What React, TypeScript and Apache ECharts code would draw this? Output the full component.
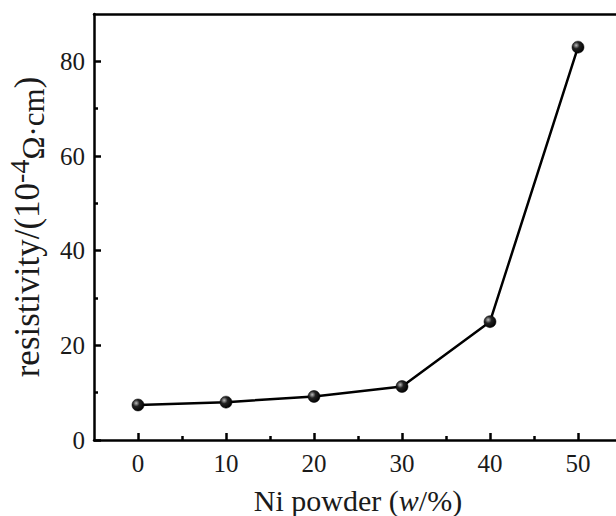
import React, { useEffect, useRef } from "react";
import * as echarts from "echarts";

const niPowder = [0, 10, 20, 30, 40, 50];
const resistivity = [7.4, 8.0, 9.2, 11.3, 25.0, 83.0];
const xTicks = [0, 10, 20, 30, 40, 50];
const xMinorTicks = [5, 15, 25, 35, 45];
const yTicks = [0, 20, 40, 60, 80];
const yMinorTicks = [10, 30, 50, 70];

const FONT = "Liberation Serif";
const TXT = "#1a1a1a";

export default function App() {
  const ref = useRef<HTMLDivElement>(null);
  useEffect(() => {
    if (!ref.current) return;
    const chart = echarts.init(ref.current, null, { renderer: "svg" });
    const axisLine = { show: true, onZero: false, lineStyle: { color: "#000", width: 2.5 } };
    const tickStyle = { color: "#000", width: 2.5 };
    chart.setOption({
      animation: false,
      backgroundColor: "#fff",
      grid: {
        left: 94,
        top: 14,
        right: -6,
        bottom: 76,
        containLabel: false,
        outerBoundsMode: "none",
      },
      xAxis: [
        {
          type: "value",
          min: -5,
          max: 55,
          position: "bottom",
          axisLine,
          axisTick: { show: true, inside: true, length: 7, customValues: xTicks, lineStyle: tickStyle },
          splitLine: { show: false },
          axisLabel: {
            margin: 11,
            fontFamily: FONT,
            fontSize: 25,
            color: TXT,
            customValues: xTicks,
          },
          name: "Ni powder ({i|w}/%)",
          nameLocation: "middle",
          nameGap: 45,
          nameTextStyle: {
            fontFamily: FONT,
            fontSize: 30,
            color: TXT,
            rich: { i: { fontFamily: FONT, fontSize: 30, fontStyle: "italic", color: TXT } },
          },
        },
        {
          type: "value",
          min: -5,
          max: 55,
          position: "top",
          axisLine,
          axisTick: { show: false },
          axisLabel: { show: false },
          splitLine: { show: false },
        },
        {
          type: "value",
          min: -5,
          max: 55,
          position: "bottom",
          offset: 0,
          axisLine: { show: false, onZero: false },
          axisTick: { show: true, inside: true, length: 4, customValues: xMinorTicks, lineStyle: tickStyle },
          axisLabel: { show: false },
          splitLine: { show: false },
        },
      ],
      yAxis: [
        {
          type: "value",
          min: 0,
          max: 90,
          position: "left",
          axisLine,
          axisTick: { show: true, inside: true, length: 7, customValues: yTicks, lineStyle: tickStyle },
          splitLine: { show: false },
          axisLabel: {
            margin: 9,
            fontFamily: FONT,
            fontSize: 25,
            color: TXT,
            customValues: yTicks,
          },
          name: "resistivity/(10{sup|-4}{sub|Ω·cm})",
          nameLocation: "middle",
          nameGap: 40,
          nameRotate: 90,
          nameTextStyle: {
            fontFamily: FONT,
            fontSize: 35,
            color: TXT,
            lineHeight: 44,
            rich: {
              sup: { fontFamily: FONT, fontSize: 28, color: TXT, verticalAlign: "top", lineHeight: 44 },
              sub: { fontFamily: FONT, fontSize: 31, color: TXT, verticalAlign: "bottom", lineHeight: 34 },
            },
          },
        },
        {
          type: "value",
          min: 0,
          max: 90,
          position: "right",
          axisLine,
          axisTick: { show: false },
          axisLabel: { show: false },
          splitLine: { show: false },
        },
        {
          type: "value",
          min: 0,
          max: 90,
          position: "left",
          offset: 0,
          axisLine: { show: false, onZero: false },
          axisTick: { show: true, inside: true, length: 4, customValues: yMinorTicks, lineStyle: tickStyle },
          axisLabel: { show: false },
          splitLine: { show: false },
        },
      ],
      series: [
        {
          type: "line",
          data: niPowder.map((x, i) => [x, resistivity[i]]),
          symbol: "circle",
          symbolSize: 12,
          lineStyle: { color: "#000", width: 2.5 },
          itemStyle: {
            color: new echarts.graphic.RadialGradient(0.35, 0.35, 0.7, [
              { offset: 0, color: "#bbb" },
              { offset: 0.4, color: "#222" },
              { offset: 1, color: "#000" },
            ]),
            borderColor: "#000",
            borderWidth: 0.5,
          },
        },
      ],
    });
    return () => chart.dispose();
  }, []);
  return (
    <div
      ref={ref}
      style={{ position: "fixed", left: 0, top: 0, width: 616, height: 516 }}
    />
  );
}
